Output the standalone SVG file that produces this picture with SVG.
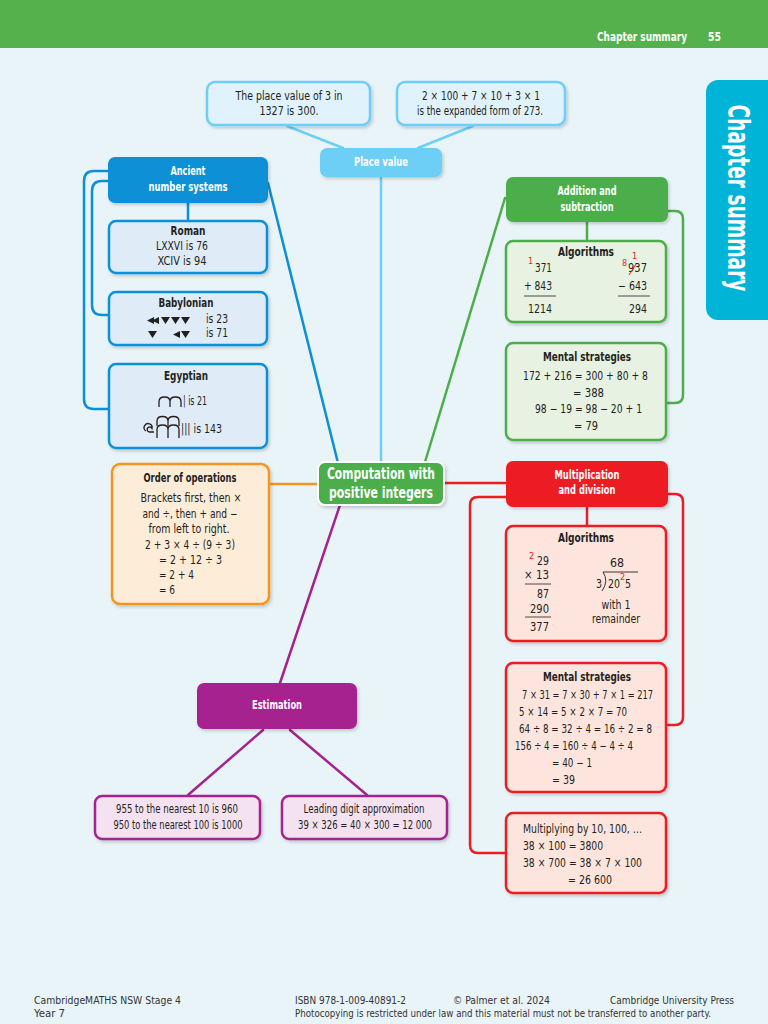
<svg xmlns="http://www.w3.org/2000/svg" width="768" height="1024" viewBox="0 0 768 1024">
<defs>
<filter id="sh" x="-10%" y="-10%" width="130%" height="140%"><feDropShadow dx="1.5" dy="2" stdDeviation="1.5" flood-color="#000" flood-opacity="0.18"/></filter>
</defs>
<style>
text{font-family:"Liberation Sans Narrow","DejaVu Sans Condensed","Liberation Sans",Arial,sans-serif;font-size:12px;fill:#231f20}
.c{text-anchor:middle}
.b{font-weight:bold}
.w{fill:#fff;font-weight:bold}
.r{fill:#ed1c24;font-size:9px}
.ft{font-size:10.5px;fill:#333}
.hd{font-size:12.5px}
.tab{font-size:30px}
.big{font-size:15.5px}
.con{fill:none;stroke-width:2.5;stroke-linecap:round;stroke-linejoin:round}
.box{stroke-width:2.5;filter:url(#sh)}
.lb{fill:#e0f2fb;stroke:#6dcff6}
.bl{fill:#dfecf8;stroke:#0a90d6}
.gr{fill:#e7f2e2;stroke:#4cae4b}
.rd{fill:#fde5dd;stroke:#ed1c24}
.or{fill:#fdecd8;stroke:#f7941d}
.pu{fill:#f4e2f0;stroke:#a5228f}
.node{filter:url(#sh)}
.rule{stroke:#231f20;stroke-width:0.8}
.gl{fill:none;stroke:#231f20;stroke-width:1.3}
</style>
<rect x="0" y="0" width="768" height="1024" fill="#e9f4f8"/>
<g id="header">
<rect x="0" y="0" width="768" height="48" fill="#55b14b"/>
<text x="597" y="41" class="w hd" textLength="90" lengthAdjust="spacingAndGlyphs">Chapter summary</text>
<text x="708" y="41" class="w hd" textLength="13" lengthAdjust="spacingAndGlyphs">55</text>
</g>
<g id="tab">
<rect x="706" y="80" width="80" height="240" rx="12" fill="#00b4d8"/>
<text transform="translate(728,198) rotate(90)" class="w c tab" textLength="187" lengthAdjust="spacingAndGlyphs">Chapter summary</text>
</g>

<g id="connectors">
<path class="con" stroke="#6dcff6" d="M287,126 L343,148 M473,126 L418,148 M381,177 V462"/>
<path class="con" stroke="#0a90d6" d="M268,183 L338,463 M188,203 V221 M108,171 H94 Q84,171 84,181 V399 Q84,409 94,409 H109 M108,181 H102 Q92,181 92,191 V305 Q92,315 102,315 H109"/>
<path class="con" stroke="#4cae4b" d="M425,462 L505,198 M587,222 V241 M668,211 H675 Q683,211 683,219 V395 Q683,403 675,403 H666"/>
<path class="con" stroke="#ed1c24" d="M444,483 H506 M506,497 H478 Q470,497 470,505 V845 Q470,853 478,853 H506 M587,507 V526 M668,494 H675 Q683,494 683,502 V717 Q683,725 675,725 H666"/>
<path class="con" stroke="#f7941d" d="M269,484 H318"/>
<path class="con" stroke="#a5228f" d="M340,505 L280,683 M263,730 L188,795 M290,730 L367,795"/>
</g>

<g id="pv1">
<rect class="box lb" x="207" y="82" width="163" height="43" rx="8"/>
<text x="289" y="100" class="c" textLength="107" lengthAdjust="spacingAndGlyphs">The place value of 3 in</text>
<text x="289" y="115" class="c" textLength="59" lengthAdjust="spacingAndGlyphs">1327 is 300.</text>
</g>
<g id="pv2">
<rect class="box lb" x="397" y="82" width="168" height="43" rx="8"/>
<text x="481" y="100" class="c" textLength="118" lengthAdjust="spacingAndGlyphs">2 × 100 + 7 × 10 + 3 × 1</text>
<text x="480" y="115" class="c" textLength="126" lengthAdjust="spacingAndGlyphs">is the expanded form of 273.</text>
</g>
<g id="placevalue">
<rect class="node" x="320" y="148" width="122" height="29" rx="7" fill="#6dcff6"/>
<text x="381" y="166" class="w c" textLength="54" lengthAdjust="spacingAndGlyphs">Place value</text>
</g>

<g id="ancient">
<rect class="node" x="108" y="157" width="160" height="46" rx="7" fill="#0a90d6"/>
<text x="188" y="175" class="w c" textLength="35" lengthAdjust="spacingAndGlyphs">Ancient</text>
<text x="188" y="191" class="w c" textLength="79" lengthAdjust="spacingAndGlyphs">number systems</text>
</g>
<g id="roman">
<rect class="box bl" x="109" y="221" width="158" height="52" rx="7"/>
<text x="188" y="235" class="b c" textLength="35" lengthAdjust="spacingAndGlyphs">Roman</text>
<text x="182" y="250" class="c" textLength="52" lengthAdjust="spacingAndGlyphs">LXXVI is 76</text>
<text x="182" y="265" class="c" textLength="49" lengthAdjust="spacingAndGlyphs">XCIV  is 94</text>
</g>
<g id="babylonian">
<rect class="box bl" x="109" y="292" width="158" height="53" rx="7"/>
<text x="186" y="307" class="b c" textLength="55" lengthAdjust="spacingAndGlyphs">Babylonian</text>
<g fill="#231f20">
<path d="M154,317 L147,320.5 L154,324 Z M159,317 L152,320.5 L159,324 Z"/>
<path d="M161,317 H170 L165.5,324 Z M171,317 H180 L175.5,324 Z M181,317 H190 L185.5,324 Z"/>
<path d="M148,331 H157 L152.5,338 Z"/>
<path d="M180,331 L173,334.5 L180,338 Z M181,331 H190 L185.5,338 Z"/>
</g>
<text x="206" y="323" textLength="22" lengthAdjust="spacingAndGlyphs">is 23</text>
<text x="206" y="337" textLength="22" lengthAdjust="spacingAndGlyphs">is 71</text>
</g>
<g id="egyptian">
<rect class="box bl" x="109" y="364" width="158" height="84" rx="7"/>
<text x="186" y="380" class="b c" textLength="44" lengthAdjust="spacingAndGlyphs">Egyptian</text>
<path class="gl" d="M159,407 V401.5 Q159,397 164.5,397 Q170,397 170,401.5 V407 M170,401.5 Q170,397 175.5,397 Q181,397 181,401.5 V407"/>
<text x="183" y="405" textLength="24" lengthAdjust="spacingAndGlyphs">| is 21</text>
<path class="gl" d="M154,432 H150 A2.5,2.5 0 1 1 152,428.5 A4,4 0 1 0 146,431"/>
<path class="gl" d="M157,426 V421 Q157,416.5 162.5,416.5 Q168,416.5 168,421 V426 M168,421 Q168,416.5 173.5,416.5 Q179,416.5 179,421 V426"/>
<path class="gl" d="M157,438 V429.5 Q157,425 162.5,425 Q168,425 168,429.5 V438 M168,429.5 Q168,425 173.5,425 Q179,425 179,429.5 V438"/>
<text x="181" y="433" textLength="41" lengthAdjust="spacingAndGlyphs">||| is 143</text>
</g>

<g id="order">
<rect class="box or" x="112" y="464" width="157" height="140" rx="8"/>
<text x="190" y="482" class="b c" textLength="93" lengthAdjust="spacingAndGlyphs">Order of operations</text>
<text x="191" y="502" class="c" textLength="101" lengthAdjust="spacingAndGlyphs">Brackets first, then ×</text>
<text x="190" y="518" class="c" textLength="95" lengthAdjust="spacingAndGlyphs">and ÷, then + and −</text>
<text x="189" y="533" class="c" textLength="81" lengthAdjust="spacingAndGlyphs">from left to right.</text>
<text x="145" y="549" textLength="90" lengthAdjust="spacingAndGlyphs">2 + 3 × 4 ÷ (9 ÷ 3)</text>
<text x="159" y="564" textLength="63" lengthAdjust="spacingAndGlyphs">= 2 + 12 ÷ 3</text>
<text x="159" y="579" textLength="35" lengthAdjust="spacingAndGlyphs">= 2 + 4</text>
<text x="159" y="594" textLength="16" lengthAdjust="spacingAndGlyphs">= 6</text>
</g>

<g id="central">
<rect class="node" x="318" y="462" width="126" height="43" rx="7" fill="#4cae4b" stroke="#fff" stroke-width="2"/>
<text x="381" y="479" class="w c big" textLength="108" lengthAdjust="spacingAndGlyphs">Computation with</text>
<text x="381" y="498" class="w c big" textLength="104" lengthAdjust="spacingAndGlyphs">positive integers</text>
</g>

<g id="addition">
<rect class="node" x="506" y="177" width="162" height="45" rx="7" fill="#4cae4b"/>
<text x="587" y="195" class="w c" textLength="59" lengthAdjust="spacingAndGlyphs">Addition and</text>
<text x="587" y="211" class="w c" textLength="53" lengthAdjust="spacingAndGlyphs">subtraction</text>
</g>
<g id="add-algorithms">
<rect class="box gr" x="506" y="241" width="160" height="81" rx="7"/>
<text x="586" y="256" class="b c" textLength="56" lengthAdjust="spacingAndGlyphs">Algorithms</text>
<text x="528" y="264" class="r">1</text>
<text x="535" y="272" textLength="17" lengthAdjust="spacingAndGlyphs">371</text>
<text x="524" y="290" textLength="28" lengthAdjust="spacingAndGlyphs">+ 843</text>
<line class="rule" x1="524" y1="296" x2="556" y2="296"/>
<text x="528" y="313" textLength="24" lengthAdjust="spacingAndGlyphs">1214</text>
<text x="632" y="259" class="r">1</text>
<text x="622" y="266" class="r">8</text>
<text x="628" y="272" textLength="19" lengthAdjust="spacingAndGlyphs">937</text>
<line x1="629" y1="275" x2="636" y2="264" stroke="#ed1c24" stroke-width="1"/>
<text x="618" y="290" textLength="29" lengthAdjust="spacingAndGlyphs">− 643</text>
<line class="rule" x1="618" y1="296" x2="650" y2="296"/>
<text x="629" y="313" textLength="18" lengthAdjust="spacingAndGlyphs">294</text>
</g>
<g id="add-mental">
<rect class="box gr" x="506" y="343" width="160" height="97" rx="7"/>
<text x="587" y="361" class="b c" textLength="88" lengthAdjust="spacingAndGlyphs">Mental strategies</text>
<text x="523" y="380" textLength="125" lengthAdjust="spacingAndGlyphs">172 + 216 = 300 + 80 + 8</text>
<text x="573" y="397" textLength="31" lengthAdjust="spacingAndGlyphs">= 388</text>
<text x="535" y="413" textLength="107" lengthAdjust="spacingAndGlyphs">98 − 19 = 98 − 20 + 1</text>
<text x="574" y="430" textLength="24" lengthAdjust="spacingAndGlyphs">= 79</text>
</g>

<g id="multiplication">
<rect class="node" x="506" y="461" width="162" height="46" rx="7" fill="#ed1c24"/>
<text x="587" y="479" class="w c" textLength="65" lengthAdjust="spacingAndGlyphs">Multiplication</text>
<text x="587" y="494" class="w c" textLength="57" lengthAdjust="spacingAndGlyphs">and division</text>
</g>
<g id="mult-algorithms">
<rect class="box rd" x="506" y="526" width="160" height="115" rx="7"/>
<text x="586" y="542" class="b c" textLength="56" lengthAdjust="spacingAndGlyphs">Algorithms</text>
<text x="529" y="559" class="r">2</text>
<text x="537" y="565" textLength="12" lengthAdjust="spacingAndGlyphs">29</text>
<text x="524" y="579" textLength="25" lengthAdjust="spacingAndGlyphs">× 13</text>
<line class="rule" x1="525" y1="584" x2="551" y2="584"/>
<text x="537" y="598" textLength="12" lengthAdjust="spacingAndGlyphs">87</text>
<text x="530" y="613" textLength="19" lengthAdjust="spacingAndGlyphs">290</text>
<line class="rule" x1="525" y1="617" x2="551" y2="617"/>
<text x="530" y="631" textLength="19" lengthAdjust="spacingAndGlyphs">377</text>
<text x="617" y="567" class="c" textLength="14" lengthAdjust="spacingAndGlyphs">68</text>
<path d="M603,572 H638 M603,572 Q609,581 602,591" fill="none" stroke="#231f20" stroke-width="0.9"/>
<text x="596" y="588" textLength="6" lengthAdjust="spacingAndGlyphs">3</text>
<text x="608" y="588" textLength="12" lengthAdjust="spacingAndGlyphs">20</text>
<text x="620" y="580" class="r">2</text>
<text x="625" y="588" textLength="6" lengthAdjust="spacingAndGlyphs">5</text>
<text x="616" y="609" class="c" textLength="29" lengthAdjust="spacingAndGlyphs">with 1</text>
<text x="616" y="623" class="c" textLength="48" lengthAdjust="spacingAndGlyphs">remainder</text>
</g>
<g id="mult-mental">
<rect class="box rd" x="506" y="663" width="160" height="129" rx="7"/>
<text x="587" y="681" class="b c" textLength="88" lengthAdjust="spacingAndGlyphs">Mental strategies</text>
<text x="522" y="699" textLength="131" lengthAdjust="spacingAndGlyphs">7 × 31 = 7 × 30 + 7 × 1 = 217</text>
<text x="519" y="716" textLength="108" lengthAdjust="spacingAndGlyphs">5 × 14 = 5 × 2 × 7 = 70</text>
<text x="519" y="733" textLength="133" lengthAdjust="spacingAndGlyphs">64 ÷ 8 = 32 ÷ 4 = 16 ÷ 2 = 8</text>
<text x="515" y="750" textLength="118" lengthAdjust="spacingAndGlyphs">156 ÷ 4 = 160 ÷ 4 − 4 ÷ 4</text>
<text x="552" y="767" textLength="40" lengthAdjust="spacingAndGlyphs">= 40 − 1</text>
<text x="552" y="784" textLength="23" lengthAdjust="spacingAndGlyphs">= 39</text>
</g>
<g id="mult-by-10">
<rect class="box rd" x="506" y="813" width="160" height="80" rx="7"/>
<text x="523" y="833" textLength="119" lengthAdjust="spacingAndGlyphs">Multiplying by 10, 100, …</text>
<text x="523" y="850" textLength="80" lengthAdjust="spacingAndGlyphs">38 × 100 = 3800</text>
<text x="523" y="867" textLength="119" lengthAdjust="spacingAndGlyphs">38 × 700 = 38 × 7 × 100</text>
<text x="568" y="884" textLength="44" lengthAdjust="spacingAndGlyphs">= 26 600</text>
</g>

<g id="estimation">
<rect class="node" x="197" y="683" width="160" height="46" rx="7" fill="#a5228f"/>
<text x="277" y="709" class="w c" textLength="50" lengthAdjust="spacingAndGlyphs">Estimation</text>
</g>
<g id="est-rounding">
<rect class="box pu" x="95" y="796" width="165" height="43" rx="7"/>
<text x="177" y="813" class="c" textLength="122" lengthAdjust="spacingAndGlyphs">955 to the nearest 10 is 960</text>
<text x="178" y="829" class="c" textLength="129" lengthAdjust="spacingAndGlyphs">950 to the nearest 100 is 1000</text>
</g>
<g id="est-leading">
<rect class="box pu" x="282" y="796" width="165" height="43" rx="7"/>
<text x="364" y="813" class="c" textLength="121" lengthAdjust="spacingAndGlyphs">Leading digit approximation</text>
<text x="365" y="829" class="c" textLength="134" lengthAdjust="spacingAndGlyphs">39 × 326 = 40 × 300 = 12 000</text>
</g>

<g id="footer">
<text x="34" y="1004" class="ft" textLength="147" lengthAdjust="spacingAndGlyphs">CambridgeMATHS NSW Stage 4</text>
<text x="34" y="1017" class="ft" textLength="31" lengthAdjust="spacingAndGlyphs">Year 7</text>
<text x="295" y="1004" class="ft" textLength="111" lengthAdjust="spacingAndGlyphs">ISBN 978-1-009-40891-2</text>
<text x="453" y="1004" class="ft" textLength="97" lengthAdjust="spacingAndGlyphs">© Palmer et al. 2024</text>
<text x="610" y="1004" class="ft" textLength="124" lengthAdjust="spacingAndGlyphs">Cambridge University Press</text>
<text x="295" y="1017" class="ft" textLength="416" lengthAdjust="spacingAndGlyphs">Photocopying is restricted under law and this material must not be transferred to another party.</text>
</g>
</svg>
